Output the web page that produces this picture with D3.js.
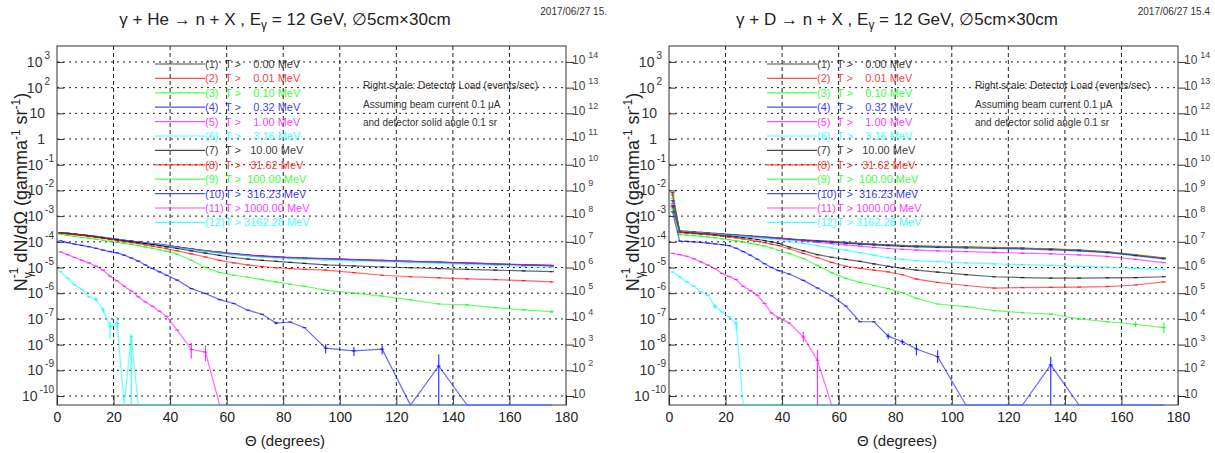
<!DOCTYPE html>
<html>
<head>
<meta charset="utf-8">
<script src="https://cdn.jsdelivr.net/npm/d3@7"></script>
<style>
  body { margin: 0; background: #fff; }
  svg text { font-family: "Liberation Sans", Arial, Helvetica, sans-serif; }
</style>
</head>
<body>
<svg id="chart" width="1215" height="453"></svg>
<script>
// theta bin centres (degrees), shared by every curve
var thetaBins = [1.25, 3.75, 6.25, 8.75, 11.25, 13.75, 16.25, 18.75, 21.25, 23.75, 26.25, 28.75,
  31.25, 33.75, 36.25, 38.75, 42.5, 47.5, 52.5, 57.5, 62.5, 67.5, 72.5, 77.5, 82.5, 87.5,
  95, 105, 115, 125, 135, 145, 155, 165, 175];

var thresholds = ["0.00", "0.01", "0.10", "0.32", "1.00", "3.16", "10.00", "31.62", "100.00", "316.23", "1000.00", "3162.28"];
var xTicks = [0, 20, 40, 60, 80, 100, 120, 140, 160, 180];

// log10 of N^-1 dN/dOmega, null = empty bin (drawn on the axis floor)
// gamma + He
var heS1 = [-3.65,-3.67,-3.70,-3.73,-3.76,-3.80,-3.84,-3.88,-3.91,-3.95,-3.98,-4.01,-4.04,-4.08,-4.11,-4.15,-4.21,-4.28,-4.35,-4.42,-4.48,-4.53,-4.57,-4.60,-4.62,-4.64,-4.66,-4.70,-4.74,-4.77,-4.80,-4.84,-4.87,-4.90,-4.94];
var heS2 = [-3.65,-3.67,-3.70,-3.72,-3.76,-3.80,-3.84,-3.87,-3.91,-3.95,-3.98,-4.01,-4.05,-4.08,-4.11,-4.15,-4.21,-4.28,-4.35,-4.41,-4.47,-4.52,-4.56,-4.59,-4.62,-4.64,-4.66,-4.69,-4.73,-4.77,-4.80,-4.83,-4.87,-4.90,-4.93];
var heS3 = [-3.65,-3.67,-3.70,-3.73,-3.76,-3.80,-3.83,-3.87,-3.91,-3.94,-3.98,-4.01,-4.04,-4.08,-4.11,-4.15,-4.20,-4.27,-4.34,-4.41,-4.47,-4.52,-4.56,-4.59,-4.61,-4.63,-4.66,-4.69,-4.73,-4.76,-4.80,-4.83,-4.86,-4.89,-4.93];
var heS4 = [-3.64,-3.67,-3.70,-3.73,-3.76,-3.79,-3.83,-3.87,-3.90,-3.94,-3.97,-4.00,-4.04,-4.07,-4.10,-4.14,-4.20,-4.27,-4.34,-4.40,-4.46,-4.51,-4.55,-4.58,-4.61,-4.63,-4.65,-4.69,-4.72,-4.76,-4.79,-4.82,-4.86,-4.89,-4.92];
var heS5 = [-3.65,-3.68,-3.70,-3.73,-3.76,-3.80,-3.84,-3.87,-3.91,-3.95,-3.98,-4.01,-4.05,-4.08,-4.12,-4.15,-4.21,-4.28,-4.35,-4.41,-4.47,-4.52,-4.56,-4.59,-4.61,-4.63,-4.65,-4.69,-4.72,-4.76,-4.79,-4.82,-4.86,-4.89,-4.92];
var heS6 = [-3.65,-3.68,-3.71,-3.74,-3.77,-3.80,-3.84,-3.88,-3.92,-3.95,-3.99,-4.02,-4.05,-4.09,-4.12,-4.16,-4.22,-4.30,-4.37,-4.44,-4.50,-4.55,-4.60,-4.63,-4.66,-4.68,-4.71,-4.74,-4.77,-4.80,-4.84,-4.88,-4.92,-4.96,-5.00];
var heS7 = [-3.65,-3.68,-3.71,-3.74,-3.77,-3.81,-3.85,-3.89,-3.92,-3.96,-3.99,-4.03,-4.07,-4.11,-4.15,-4.20,-4.26,-4.35,-4.44,-4.53,-4.61,-4.67,-4.72,-4.76,-4.80,-4.84,-4.90,-4.94,-4.98,-5.01,-5.04,-5.07,-5.10,-5.13,-5.16];
var heS8 = [-3.66,-3.69,-3.72,-3.75,-3.79,-3.83,-3.87,-3.91,-3.95,-3.99,-4.03,-4.07,-4.12,-4.17,-4.22,-4.27,-4.35,-4.47,-4.59,-4.72,-4.82,-4.90,-4.96,-5.01,-5.04,-5.07,-5.10,-5.20,-5.30,-5.36,-5.40,-5.44,-5.47,-5.51,-5.56];
var heS9 = [-3.71,-3.75,-3.79,-3.83,-3.86,-3.90,-3.94,-3.98,-4.02,-4.06,-4.10,-4.15,-4.20,-4.25,-4.31,-4.37,-4.48,-4.72,-5.00,-5.19,-5.30,-5.38,-5.47,-5.56,-5.65,-5.73,-5.88,-6.00,-6.11,-6.26,-6.42,-6.45,-6.56,-6.65,-6.72];
var heS10 = [-3.96,-4.03,-4.09,-4.14,-4.19,-4.25,-4.32,-4.38,-4.43,-4.52,-4.63,-4.75,-4.90,-5.04,-5.17,-5.30,-5.49,-5.82,-6.01,-6.25,-6.40,-6.66,-6.82,-7.16,-7.12,-7.34,-8.14,-8.24,-8.18,null,-8.83,null,null,null,null];
var heS11 = [-4.39,-4.50,-4.61,-4.72,-4.82,-4.95,-5.10,-5.34,-5.52,-5.73,-5.91,-6.14,-6.34,-6.51,-6.70,-6.90,-7.44,-8.19,-8.29,null,null,null,null,null,null,null,null,null,null,null,null,null,null,null,null];
var heS12 = [-5.16,-5.42,-5.68,-5.85,-6.14,-6.24,-6.65,-7.30,-7.17,null,-7.69,null,null,null,null,null,null,null,null,null,null,null,null,null,null,null,null,null,null,null,null,null,null,null,null];

// gamma + D
var dS1 = [-2.09,-3.58,-3.60,-3.62,-3.64,-3.66,-3.68,-3.70,-3.72,-3.74,-3.76,-3.78,-3.80,-3.82,-3.84,-3.86,-3.89,-3.93,-3.96,-3.99,-4.03,-4.07,-4.10,-4.13,-4.15,-4.17,-4.19,-4.21,-4.23,-4.25,-4.28,-4.33,-4.40,-4.52,-4.64];
var dS2 = [-2.18,-3.57,-3.59,-3.61,-3.63,-3.65,-3.67,-3.69,-3.71,-3.73,-3.75,-3.77,-3.79,-3.81,-3.83,-3.85,-3.88,-3.92,-3.95,-3.98,-4.02,-4.06,-4.09,-4.12,-4.14,-4.16,-4.18,-4.20,-4.22,-4.24,-4.27,-4.31,-4.38,-4.50,-4.62];
var dS3 = [-2.30,-3.58,-3.60,-3.62,-3.64,-3.66,-3.68,-3.70,-3.72,-3.74,-3.76,-3.78,-3.80,-3.82,-3.84,-3.86,-3.89,-3.93,-3.96,-4.00,-4.04,-4.08,-4.11,-4.14,-4.16,-4.18,-4.20,-4.22,-4.24,-4.26,-4.29,-4.33,-4.40,-4.52,-4.64];
var dS4 = [-2.40,-3.59,-3.61,-3.63,-3.65,-3.67,-3.69,-3.71,-3.73,-3.75,-3.77,-3.79,-3.81,-3.83,-3.85,-3.87,-3.90,-3.94,-3.97,-4.01,-4.05,-4.09,-4.12,-4.15,-4.18,-4.20,-4.22,-4.24,-4.26,-4.28,-4.31,-4.35,-4.42,-4.54,-4.66];
var dS5 = [-2.50,-3.60,-3.62,-3.64,-3.66,-3.68,-3.70,-3.72,-3.74,-3.76,-3.78,-3.80,-3.82,-3.84,-3.86,-3.88,-3.92,-3.97,-4.02,-4.07,-4.12,-4.17,-4.22,-4.26,-4.29,-4.32,-4.35,-4.38,-4.41,-4.44,-4.47,-4.51,-4.57,-4.68,-4.81];
var dS6 = [-2.55,-3.60,-3.62,-3.64,-3.66,-3.68,-3.70,-3.72,-3.75,-3.77,-3.79,-3.82,-3.84,-3.86,-3.89,-3.92,-3.98,-4.06,-4.15,-4.24,-4.32,-4.42,-4.52,-4.62,-4.68,-4.73,-4.77,-4.82,-4.86,-4.89,-4.92,-4.95,-4.99,-5.03,-5.07];
var dS7 = [-2.60,-3.62,-3.64,-3.66,-3.68,-3.70,-3.73,-3.76,-3.78,-3.81,-3.84,-3.87,-3.91,-3.95,-4.00,-4.06,-4.20,-4.35,-4.50,-4.60,-4.68,-4.76,-4.86,-4.95,-5.03,-5.10,-5.18,-5.28,-5.36,-5.39,-5.41,-5.41,-5.40,-5.39,-5.36];
var dS8 = [-2.65,-3.64,-3.66,-3.68,-3.70,-3.72,-3.75,-3.78,-3.82,-3.85,-3.89,-3.93,-3.98,-4.03,-4.09,-4.15,-4.27,-4.45,-4.62,-4.80,-4.95,-5.03,-5.10,-5.17,-5.28,-5.45,-5.58,-5.70,-5.80,-5.78,-5.77,-5.76,-5.74,-5.68,-5.56];
var dS9 = [-2.72,-3.72,-3.74,-3.76,-3.78,-3.81,-3.84,-3.88,-3.92,-3.96,-4.01,-4.06,-4.11,-4.17,-4.24,-4.33,-4.46,-4.65,-4.92,-5.20,-5.42,-5.58,-5.70,-5.82,-5.98,-6.20,-6.42,-6.52,-6.68,-6.76,-6.81,-7.00,-7.11,-7.21,-7.34];
var dS10 = [-2.83,-3.97,-3.98,-4.00,-4.02,-4.05,-4.08,-4.11,-4.15,-4.25,-4.38,-4.52,-4.68,-4.85,-5.00,-5.12,-5.25,-5.50,-5.80,-6.10,-6.50,-7.11,-7.11,-7.67,-7.89,-8.17,-8.47,null,null,null,-8.79,null,null,null,null];
var dS11 = [-4.45,-4.50,-4.56,-4.66,-4.78,-4.90,-5.04,-5.23,-5.35,-5.47,-5.73,-5.90,-6.08,-6.40,-6.77,-6.95,-7.16,-7.70,-8.61,null,null,null,null,null,null,null,null,null,null,null,null,null,null,null,null];
var dS12 = [-5.17,-5.36,-5.56,-5.73,-5.95,-6.08,-6.51,-6.73,-6.92,-7.18,null,null,null,null,null,null,null,null,null,null,null,null,null,null,null,null,null,null,null,null,null,null,null,null,null];

// visible error bars: [series, bin, decades down, decades up]
var heErr = [[11,5,0.08,0.08],[11,6,0.1,0.1],[11,7,0.45,0.2],[11,8,0.25,0.25],[11,10,9,0.1],
  [10,17,0.35,0.25],[10,18,0.35,0.25],
  [9,26,0.2,0.15],[9,27,0.2,0.15],[9,28,0.2,0.15],[9,30,9,0.45],[9,23,0.05,0.05],
  [8,34,0.06,0.06]];
var dErr = [[11,6,0.1,0.1],[11,9,0.25,0.1],
  [10,17,0.2,0.2],[10,18,9,0.4],
  [9,23,0.12,0.1],[9,24,0.1,0.1],[9,25,0.25,0.2],[9,26,0.25,0.25],[9,30,9,0.32],
  [8,33,0.1,0.1],[8,34,0.2,0.2]];

var heSeries = [heS1, heS2, heS3, heS4, heS5, heS6, heS7, heS8, heS9, heS10, heS11, heS12];
var dSeries = [dS1, dS2, dS3, dS4, dS5, dS6, dS7, dS8, dS9, dS10, dS11, dS12];

var rootColors = ["#000000", "#ff0000", "#00ff00", "#0000ff", "#ff00ff", "#00ffff"];

var svg = d3.select('#chart');
svg.append('rect').attr('width', 1215).attr('height', 453).attr('fill', '#fff');

function drawPanel(p){
	var g = svg.append('g').attr('transform', 'translate(' + p.dx + ',0)');
	var L = 57, R = 566, T = 46, B = 405;

	var x = d3.scaleLinear().domain([0, 180]).range([L, R]);
	var y = d3.scaleLog().domain([Math.pow(10, -10.35), Math.pow(10, 3.62)]).range([B, T]);
	var yR = d3.scaleLog().domain(y.domain().map(function(v){ return v * 1e11; })).range([B, T]);

	var decades = d3.range(-10, 4);

	// grid
	g.append('g').selectAll('line')
		.data(decades).enter().append('line')
		.attr('x1', L).attr('x2', R)
		.attr('y1', function(e){ return y(Math.pow(10, e)); })
		.attr('y2', function(e){ return y(Math.pow(10, e)); })
		.style('stroke', '#222').style('stroke-width', 1)
		.style('stroke-dasharray', '2,4');
	g.append('g').selectAll('line')
		.data(xTicks.slice(1, -1)).enter().append('line')
		.attr('x1', x).attr('x2', x)
		.attr('y1', T).attr('y2', B)
		.style('stroke', '#222').style('stroke-width', 1)
		.style('stroke-dasharray', '4,3');

	// axes
	var minors = [];
	d3.range(-11, 4).forEach(function(e){
		for(var k = 2; k < 10; k++){
			var v = k * Math.pow(10, e);
			if(v > y.domain()[0] && v < y.domain()[1]) minors.push(v);
		}
	});
	var majors = decades.map(function(e){ return Math.pow(10, e); });

	var gx = g.append('g').attr('transform', 'translate(0,' + B + ')');
	gx.call(d3.axisBottom(x).tickValues(d3.range(0, 181, 5).filter(function(d){ return d % 20; }))
		.tickSize(-5).tickFormat(''));
	gx.call(d3.axisBottom(x).tickValues(xTicks).tickSize(-10).tickPadding(7).tickFormat(d3.format('d')));
	gx.select('.domain').remove();
	gx.selectAll('text').style('font-size', '14px').style('fill', '#222')
		.style('font-family', '"Liberation Sans", Arial, sans-serif');

	var gl = g.append('g').attr('transform', 'translate(' + L + ',0)');
	gl.call(d3.axisLeft(y).tickValues(minors).tickSize(-4).tickFormat(''));
	gl.call(d3.axisLeft(y).tickValues(majors).tickSize(-7).tickFormat(''));
	gl.select('.domain').remove();

	var gr = g.append('g').attr('transform', 'translate(' + R + ',0)');
	gr.call(d3.axisRight(yR).tickValues(minors.map(function(v){ return v * 1e11; })).tickSize(5).tickFormat(''));
	gr.call(d3.axisRight(yR).tickValues(d3.range(1, 15).map(function(e){ return Math.pow(10, e); })).tickSize(8).tickFormat(''));
	gr.select('.domain').remove();
	g.selectAll('.tick line').style('stroke', '#333');

	g.append('rect').attr('x', L).attr('y', T).attr('width', R - L).attr('height', B - T)
		.attr('fill', 'none').style('stroke', '#333').style('stroke-width', 1);

	// left labels 10^e
	decades.forEach(function(e){
		var yy = y(Math.pow(10, e)) + 5;
		if(e == 0 || e == 1){
			g.append('text').attr('x', L - 12).attr('y', yy).attr('text-anchor', 'end')
				.style('font-size', '14px').style('fill', '#333').text(e == 0 ? '1' : '10');
			return;
		}
		var t = g.append('text').attr('x', e > 0 ? L - 7 : L - 3).attr('y', yy).attr('text-anchor', 'end')
			.style('font-size', '14px').style('fill', '#333');
		t.append('tspan').text('10');
		t.append('tspan').attr('dx', 2).attr('dy', -8).style('font-size', '10px').text(e);
	});
	// right labels
	d3.range(1, 15).forEach(function(e){
		var yy = yR(Math.pow(10, e)) + 2;
		var t = g.append('text').attr('x', R + 6).attr('y', yy)
			.style('font-size', '12px').style('fill', '#444');
		t.append('tspan').text('10');
		if(e > 1) t.append('tspan').attr('dx', 3).attr('dy', -6).style('font-size', '9px').text(e);
	});

	// curves
	var floor = y.domain()[0];
	function yv(v){ return v == null ? B : y(Math.max(Math.pow(10, v), floor)); }
	var line = d3.line()
		.x(function(d){ return x(d.t); })
		.y(function(d){ return yv(d.v); });

	var gc = g.append('g');
	p.series.forEach(function(s, i){
		var col = rootColors[i % 6];
		var pts = s.map(function(v, j){ return {t: thetaBins[j], v: v}; });
		gc.append('path').datum(pts)
			.attr('d', line)
			.style('fill', 'none').style('stroke', col)
			.style('stroke-opacity', 0.6).style('stroke-width', 1.2);
		gc.selectAll(null).data(pts.filter(function(d){ return d.v != null; }))
			.enter().append('line')
			.attr('x1', function(d){ return x(d.t) - 2; })
			.attr('x2', function(d){ return x(d.t) + 2; })
			.attr('y1', function(d){ return yv(d.v); })
			.attr('y2', function(d){ return yv(d.v); })
			.style('stroke', col).style('stroke-opacity', 0.7).style('stroke-width', 1.2);
	});
	gc.selectAll(null).data(p.err).enter().append('line')
		.attr('x1', function(d){ return x(thetaBins[d[1]]); })
		.attr('x2', function(d){ return x(thetaBins[d[1]]); })
		.attr('y1', function(d){ return Math.min(B, yv(p.series[d[0]][d[1]] - d[2])); })
		.attr('y2', function(d){ return yv(p.series[d[0]][d[1]] + d[3]); })
		.style('stroke', function(d){ return rootColors[d[0] % 6]; })
		.style('stroke-opacity', 0.8).style('stroke-width', 1.2);

	// legend
	var lg = g.append('g');
	thresholds.forEach(function(th, i){
		var col = rootColors[i % 6];
		var ly = 64 + i * 14.4;
		lg.append('line').attr('x1', 155).attr('x2', 205).attr('y1', ly).attr('y2', ly)
			.style('stroke', col).style('stroke-opacity', 0.7).style('stroke-width', 1.2);
		var t = lg.append('text').attr('y', ly + 4).attr('xml:space', 'preserve')
			.style('font-size', '11px').style('fill', col).style('fill-opacity', 0.8);
		t.append('tspan').attr('x', 205).text('(' + (i + 1) + ')');
		t.append('tspan').attr('x', 225).text('T > ' + ('       ' + th).slice(-7) + ' MeV');
	});

	// note
	var notes = ['Right scale: Detector Load (events/sec)', 'Assuming beam current 0.1 \u03bcA', 'and detector solid angle 0.1 sr'];
	g.selectAll(null).data(notes).enter().append('text')
		.attr('x', 363).attr('y', function(d, i){ return 89 + i * 18.5; })
		.style('font-size', '10px').style('fill', '#333')
		.text(function(d){ return d; });

	// titles
	var tt = g.append('text').attr('x', p.titleX).attr('y', 25).attr('text-anchor', 'middle')
		.style('font-size', '17px').style('fill', '#222');
	tt.append('tspan').text('\u03b3 + ' + p.target + ' \u2192 n + X , E');
	tt.append('tspan').attr('dy', 4).style('font-size', '12px').text('\u03b3');
	tt.append('tspan').attr('dy', -4).text(' = 12 GeV, \u22055cm\u00d730cm');

	g.append('text').attr('x', p.dateX).attr('y', 15).attr('text-anchor', 'end')
		.style('font-size', '10px').style('fill', '#333').text(p.date);

	g.append('text').attr('x', 285).attr('y', 446).attr('text-anchor', 'middle')
		.style('font-size', '15px').style('fill', '#222').text('\u0398 (degrees)');

	var yt = g.append('text').attr('transform', 'translate(27,192) rotate(-90)')
		.attr('text-anchor', 'middle').style('font-size', '18px').style('fill', '#222');
	yt.append('tspan').text('N');
	yt.append('tspan').attr('dy', 5).style('font-size', '12px').text('\u03b3');
	yt.append('tspan').attr('dy', -14).attr('dx', -6).style('font-size', '12px').text('-1');
	yt.append('tspan').attr('dy', 9).text(' dN/d\u03a9  (gamma');
	yt.append('tspan').attr('dy', -7).style('font-size', '12px').text('-1');
	yt.append('tspan').attr('dy', 7).text(' sr');
	yt.append('tspan').attr('dy', -7).style('font-size', '12px').text('-1');
	yt.append('tspan').attr('dy', 7).text(')');
}

drawPanel({dx: 0, series: heSeries, err: heErr, target: 'He', titleX: 285, date: '2017/06/27  15.', dateX: 607});
drawPanel({dx: 612, series: dSeries, err: dErr, target: 'D', titleX: 285, date: '2017/06/27  15.4', dateX: 598});
</script>
</body>
</html>
